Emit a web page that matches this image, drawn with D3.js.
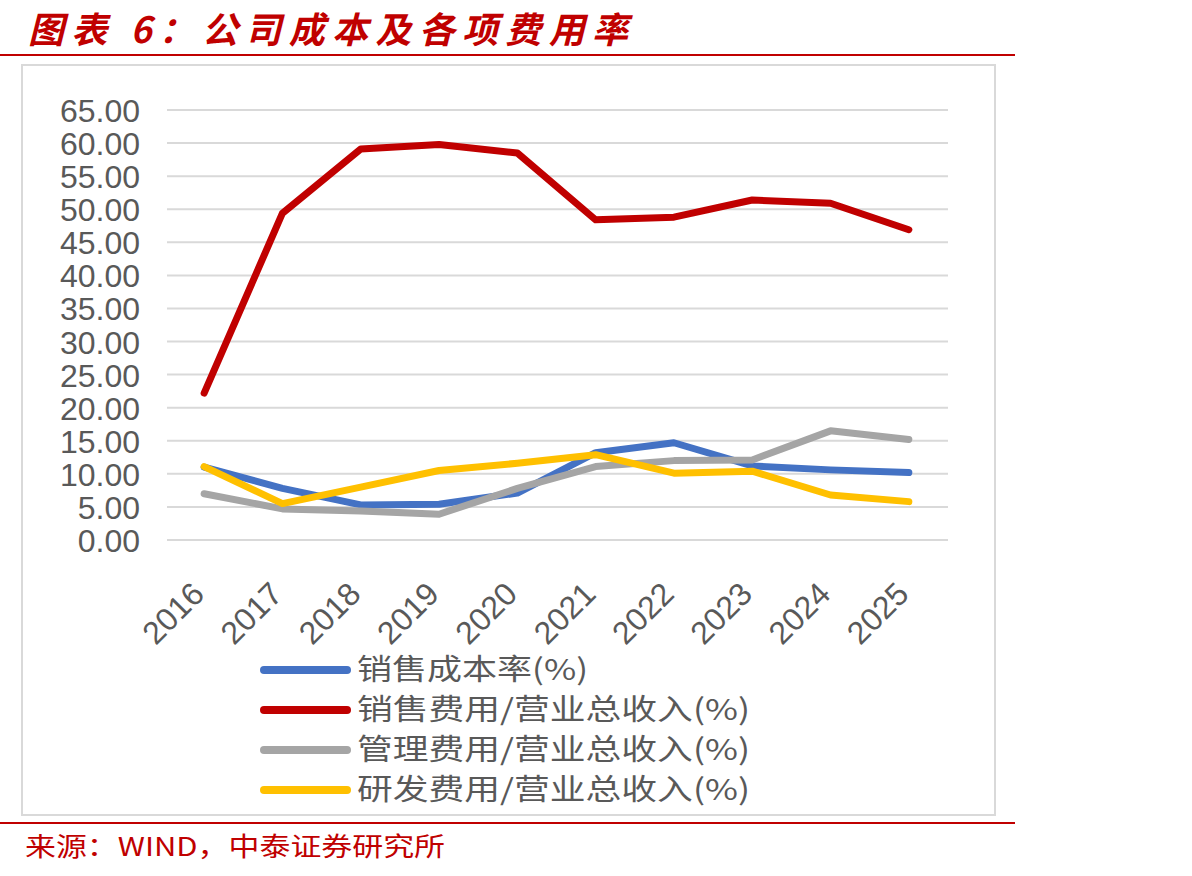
<!DOCTYPE html>
<html><head><meta charset="utf-8">
<script src="https://cdn.jsdelivr.net/npm/d3@7"></script>
<style>body{margin:0;background:#fff;}svg{display:block;}</style>
</head><body>
<svg id="c" width="1192" height="876"></svg>
<script>
const years = ["2016","2017","2018","2019","2020","2021","2022","2023","2024","2025"];
const yTicks = [0,5,10,15,20,25,30,35,40,45,50,55,60,65];
const costRate   = [11.0, 7.8, 5.3, 5.4, 7.1, 13.2, 14.7, 11.2, 10.6, 10.2];
const salesExp   = [22.2, 49.4, 59.1, 59.8, 58.5, 48.4, 48.8, 51.4, 50.9, 46.9];
const adminExp   = [7.0, 4.7, 4.4, 3.9, 7.8, 11.1, 12.0, 12.1, 16.5, 15.2];
const rdExp      = [11.1, 5.5, 8.0, 10.5, 11.6, 12.9, 10.1, 10.4, 6.8, 5.8];
const seriesNames = ["销售成本率(%)","销售费用/营业总收入(%)","管理费用/营业总收入(%)","研发费用/营业总收入(%)"];
const seriesColors = ["#4472c4","#c00000","#a5a5a5","#ffc000"];
const seriesData = [costRate, salesExp, adminExp, rdExp];

const svg = d3.select("#c");
const red = "#c00000";

// Title
svg.append("text").attr("x",28).attr("y",43)
  .attr("font-family","'Noto Sans CJK SC', sans-serif").attr("font-weight","bold")
  .attr("font-style","italic").attr("font-size",36).attr("fill",red)
  .attr("textLength",600).attr("lengthAdjust","spacing")
  .text("图表 6：公司成本及各项费用率");
svg.append("line").attr("x1",0).attr("x2",1015).attr("y1",55).attr("y2",55)
  .attr("stroke",red).attr("stroke-width",2);

// Chart border
svg.append("rect").attr("x",22).attr("y",65).attr("width",973).attr("height",750)
  .attr("fill","none").attr("stroke","#d9d9d9").attr("stroke-width",2);

const x = d3.scaleBand().domain(years).range([165,948]);
const y = d3.scaleLinear().domain([0,65]).range([540,110]);

// Gridlines
svg.append("g").selectAll("line").data(yTicks).join("line")
  .attr("x1",167).attr("x2",948).attr("y1",d=>y(d)).attr("y2",d=>y(d))
  .attr("stroke","#d9d9d9").attr("stroke-width",2);

// Y axis
const yAxis = d3.axisLeft(y).tickValues(yTicks).tickFormat(d3.format(".2f")).tickSize(0).tickPadding(0);
const gy = svg.append("g").attr("transform","translate(140,0)").call(yAxis);
gy.select(".domain").remove();
gy.selectAll("text").attr("font-family","'Liberation Sans', Arial, sans-serif")
  .attr("font-size",32).attr("fill","#595959").attr("dy","0.36em");

// X axis
const xAxis = d3.axisBottom(x).tickSize(0).tickPadding(0);
const gx = svg.append("g").attr("transform","translate(0,560)").call(xAxis);
gx.select(".domain").remove();
gx.selectAll("text").attr("font-family","'Liberation Sans', Arial, sans-serif")
  .attr("font-size",32).attr("fill","#595959")
  .attr("text-anchor","end").attr("dy","0.7em")
  .attr("transform","translate(-14,20) rotate(-45)");

// Lines
const line = d3.line().x((d,i)=>x(years[i])+x.bandwidth()/2).y(d=>y(d));
svg.append("g").selectAll("path").data(seriesData).join("path")
  .attr("d",d=>line(d)).attr("fill","none")
  .attr("stroke",(d,i)=>seriesColors[i]).attr("stroke-width",7)
  .attr("stroke-linecap","round").attr("stroke-linejoin","round");

// Legend
const lg = svg.append("g").selectAll("g").data(seriesNames).join("g")
  .attr("transform",(d,i)=>`translate(0,${670+i*40})`);
lg.append("line").attr("x1",264).attr("x2",347).attr("y1",0).attr("y2",0)
  .attr("stroke",(d,i)=>seriesColors[i]).attr("stroke-width",8).attr("stroke-linecap","round");
lg.append("text").attr("x",357).attr("y",0).attr("dy","0.36em")
  .attr("font-family","'Noto Sans CJK SC', sans-serif").attr("font-size",29).attr("fill","#595959")
  .attr("textLength",(d,i)=>i===0?231:393).attr("lengthAdjust","spacingAndGlyphs")
  .text(d=>d);

// Bottom
svg.append("line").attr("x1",0).attr("x2",1015).attr("y1",823).attr("y2",823)
  .attr("stroke",red).attr("stroke-width",2);
svg.append("text").attr("x",25).attr("y",856)
  .attr("font-family","'Noto Sans CJK SC', sans-serif").attr("font-size",26).attr("fill",red)
  .attr("textLength",420).attr("lengthAdjust","spacingAndGlyphs")
  .text("来源：WIND，中泰证券研究所");
</script>
</body></html>
